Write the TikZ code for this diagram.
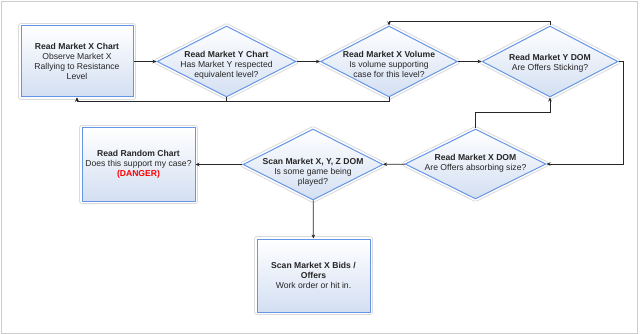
\documentclass[tikz,border=0pt]{standalone}
\usepackage{fontspec}
\setmainfont{Liberation Sans}
\usepackage{xcolor}
\usetikzlibrary{shapes.geometric, arrows.meta, positioning}

\definecolor{edgeblue}{HTML}{6595E4}
\definecolor{shadeblue}{HTML}{D3DFF2}

\begin{document}
\begin{tikzpicture}[
  x=1pt, y=-1pt,
  font=\fontsize{8.6}{10}\selectfont,
  halo/.style={preaction={draw=black!14, line width=6pt, line join=round},
    preaction={draw=white, line width=4pt, line join=round}},
  box/.style={rectangle, halo, draw=edgeblue, line width=1pt,
    top color=white, bottom color=shadeblue, inner sep=0pt},
  decision/.style={diamond, halo, draw=edgeblue, line width=1pt,
    top color=white, bottom color=shadeblue, inner sep=0pt},
  txt/.style={align=center, inner sep=0pt, text=black!85},
  arrow/.style={-{Stealth[length=4pt, width=3.5pt]}, line width=0.7pt, black!85},
]

% frame
\draw[black!20, line width=0.8pt] (1,1) rectangle (637,333);
\useasboundingbox (0,0) rectangle (640,334);

% boxes
\node[box, minimum width=112pt, minimum height=71pt, txt] (chartX) at (77,61.5)
  {\textbf{Read Market X Chart}\\Observe Market X\\Rallying to Resistance\\Level};
\node[box, minimum width=113pt, minimum height=73pt, txt] (random) at (138.5,164.5)
  {\textbf{Read Random Chart}\\Does this support my case?\\\textcolor{red}{\textbf{(DANGER)}}};
\node[box, minimum width=113pt, minimum height=73pt, txt] (bids) at (313.5,275.5)
  {\textbf{Scan Market X Bids /}\\\textbf{Offers}\\Work order or hit in.};

% decisions
\node[decision, minimum width=139pt, minimum height=71pt] (chartY) at (226.5,61.5) {};
\node[decision, minimum width=137pt, minimum height=71pt] (volX) at (389,61.5) {};
\node[decision, minimum width=136pt, minimum height=71pt] (domY) at (550,61.5) {};
\node[decision, minimum width=141pt, minimum height=70pt] (domX) at (475.5,164) {};
\node[decision, minimum width=140pt, minimum height=71pt] (scan) at (313,164.5) {};

\node[txt] (chartYtxt) at ([yshift=-3.5pt]chartY.center)
  {\textbf{Read Market Y Chart}\\Has Market Y respected\\equivalent level?};
\node[txt] (volXtxt) at ([yshift=-2.5pt]volX.center)
  {\textbf{Read Market X Volume}\\Is volume supporting\\case for this level?};
\node[txt] (domYtxt) at ([yshift=-1.5pt]domY.center)
  {\textbf{Read Market Y DOM}\\Are Offers Sticking?};
\node[txt] (domXtxt) at ([yshift=1pt]domX.center)
  {\textbf{Read Market X DOM}\\Are Offers absorbing size?};
\node[txt] (scantxt) at ([yshift=-7.5pt]scan.center)
  {\textbf{Scan Market X, Y, Z DOM}\\Is some game being\\played?};

% connectors
\draw[arrow] (chartX) -- (chartY);
\draw[arrow] (chartY) -- (volX);
\draw[arrow] (volX) -- (domY);
\draw[arrow] (chartY.south) -- ++(0,4) -| (chartX.south);
\draw[arrow] (volX.south) -- ++(0,4) -| (chartX.south);
\draw[arrow] (domY.north) -- ++(0,-4) -| (volX.north);
\draw[arrow] (domY.east) -- ++(5,0) |- (domX.east);
\draw[arrow] (domX.north) -- ++(0,-16) -| (domY.south);
\draw[arrow] (domX) -- (scan);
\draw[arrow] (scan) -- (random);
\draw[arrow] (scan) -- (bids);

\end{tikzpicture}
\end{document}
